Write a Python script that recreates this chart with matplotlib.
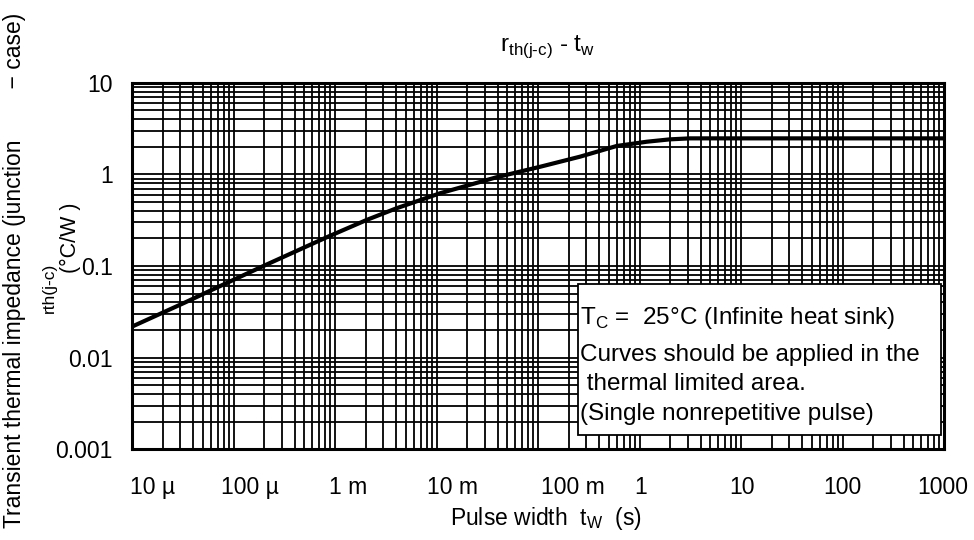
import numpy as np
import matplotlib
matplotlib.use('Agg')
import matplotlib.pyplot as plt
import matplotlib.transforms as mtrans
from matplotlib.ticker import LogLocator, NullFormatter
from matplotlib.patches import Rectangle

plt.rcParams['font.family'] = ['Liberation Sans', 'DejaVu Sans']
plt.rcParams['mathtext.fontset'] = 'custom'
plt.rcParams['mathtext.rm'] = 'Liberation Sans'

# pulse width tw (s) and rth(j-c) (degC/W)
tw = [1e-5, 3.3e-5, 6.3e-5, 1.97e-4, 8.3e-4, 2.05e-3, 4.05e-3, 1.08e-2,
      3.9e-2, 0.105, 0.26, 0.596, 1.18, 2.0, 3.15, 10, 100, 1000]
rth = [0.0218, 0.0398, 0.0557, 0.1, 0.206, 0.318, 0.427, 0.621,
       0.929, 1.21, 1.56, 2.04, 2.27, 2.41, 2.47, 2.47, 2.47, 2.47]

xticks = [1e-5, 1e-4, 1e-3, 1e-2, 1e-1, 1, 10, 100, 1000]
xticklabels = ['10 µ', '100 µ', '1 m', '10 m', '100 m', '1', '10', '100', '1000']
# the unit labels sit a bit right of their decade line
xlabel_shift = [21, 16, 13, 16, 35, 1, 1, 0, -1]
yticks = [0.001, 0.01, 0.1, 1, 10]
yticklabels = ['0.001', '0.01', '0.1', '1', '10']

W, H = 974, 540
fig = plt.figure(figsize=(W / 100, H / 100), dpi=100)
ax = fig.add_axes([132 / W, 1 - 449.3 / H, 812 / W, 366.6 / H])

ax.plot(tw, rth, color='black', lw=3.0, solid_capstyle='butt', zorder=3)

ax.set_xscale('log')
ax.set_yscale('log')
ax.set_xlim(1e-5, 1e3)
ax.set_ylim(1e-3, 10)

ax.xaxis.set_minor_locator(LogLocator(base=10, subs=np.arange(2, 10), numticks=100))
ax.yaxis.set_minor_locator(LogLocator(base=10, subs=np.arange(2, 10), numticks=100))
ax.xaxis.set_minor_formatter(NullFormatter())
ax.yaxis.set_minor_formatter(NullFormatter())
ax.set_xticks(xticks)
ax.set_xticklabels(xticklabels)
ax.set_yticks(yticks)
ax.set_yticklabels(yticklabels)
ax.grid(which='both', color='black', lw=1.3)
ax.set_axisbelow(True)
ax.tick_params(which='both', length=0, labelsize=16.5, colors='black')
ax.tick_params(axis='x', pad=19)
ax.tick_params(axis='y', pad=14)

for lab, dx in zip(ax.get_xticklabels(), xlabel_shift):
    lab.set_transform(lab.get_transform() +
                      mtrans.ScaledTranslation(dx / 100, 0, fig.dpi_scale_trans))

for s in ax.spines.values():
    s.set_linewidth(2.2)
    s.set_zorder(4)

# note box in the lower right corner
ax.add_patch(Rectangle((0.549, 0.039), 0.447, 0.412, transform=ax.transAxes,
                       facecolor='white', edgecolor='black', lw=1.3, zorder=5))
notes = ['T$_\\mathregular{C}$ =  25°C (Infinite heat sink)',
         'Curves should be applied in the',
         ' thermal limited area.',
         '(Single nonrepetitive pulse)']
for txt, yy in zip(notes, [0.358, 0.257, 0.178, 0.096]):
    ax.text(0.552, yy, txt, transform=ax.transAxes, fontsize=17.5,
            ha='left', va='center', zorder=6)

fig.text(548 / W, 1 - 47 / H,
         'r$_\\mathregular{th(j\u2010c)}$ - t$_\\mathregular{w}$',
         ha='center', va='center', fontsize=17.5)
fig.text(546 / W, 1 - 518 / H, 'Pulse width  t$_\\mathregular{W}$  (s)',
         ha='center', va='center', fontsize=16.5)
fig.text(15 / W, 1 - 270 / H,
         'Transient thermal impedance (junction        \u2212 case)',
         rotation=90, ha='center', va='center', fontsize=16.5)
fig.text(49 / W, 1 - 288 / H, 'rth(j-c)', rotation=90,
         ha='center', va='center', fontsize=12.5)
fig.text(70 / W, 1 - 238 / H, '(°C/W )', rotation=90,
         ha='center', va='center', fontsize=15.5)

fig.savefig('out.png', dpi=100)
